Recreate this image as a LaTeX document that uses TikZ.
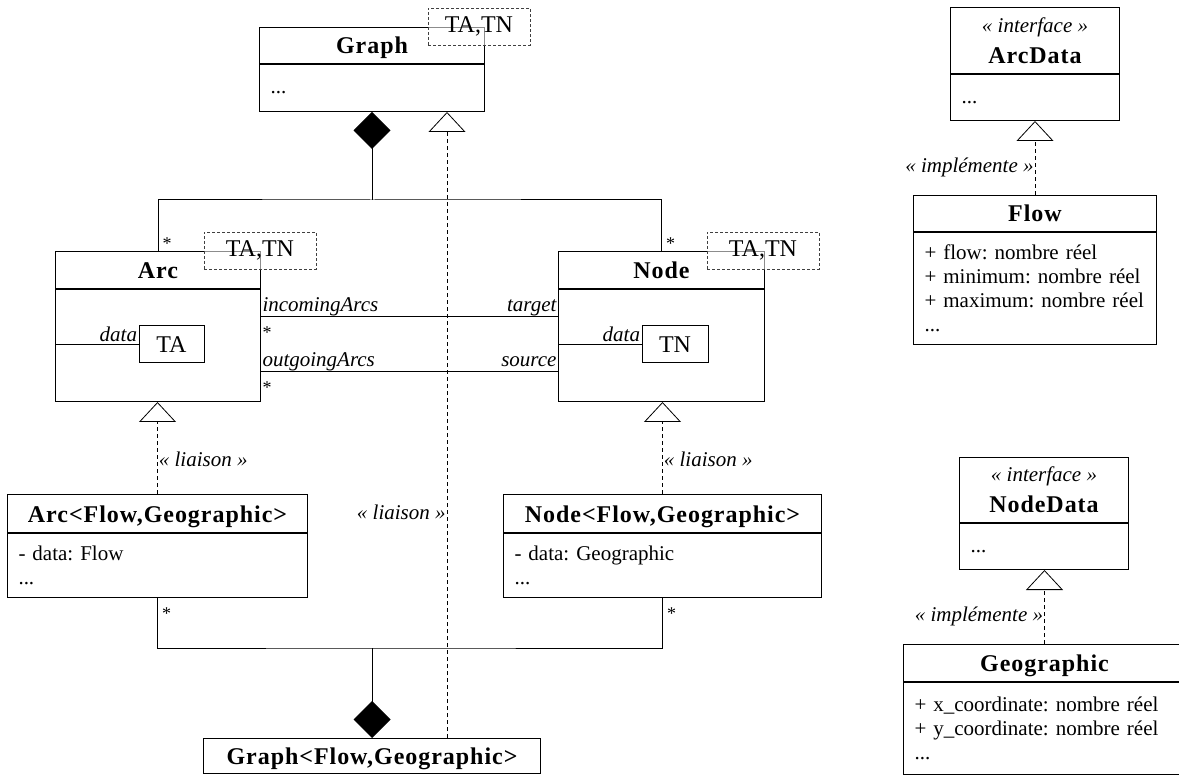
\documentclass[tikz,border=0pt]{standalone}
\usepackage{fontspec}
\setmainfont{Liberation Serif}
\newfontfamily\spacedserif{Liberation Serif}[LetterSpace=4]
\usetikzlibrary{arrows.meta}

\newcommand\clsname{\spacedserif\bfseries\fontsize{24}{31}\selectfont}
\newcommand\txtfont{\fontsize{21}{24}\selectfont}
\newcommand\stereotxt{\normalfont\itshape\fontsize{21}{24}\selectfont}
\newcommand\tmplfont{\fontsize{24}{26}\selectfont}
\newcommand\multfont{\fontsize{18}{20}\selectfont}
\frenchspacing

\begin{document}
\begin{tikzpicture}[
    x=1pt, y=-1pt, line width=1pt,
    classhead/.style={draw, anchor=north west, inner sep=0pt,
                text height=19pt, text depth=2pt, font=\clsname},
    ifacehead/.style={draw, anchor=north west, inner sep=0pt,
                align=center, font=\clsname},
    classbody/.style={draw, anchor=north, align=left, inner xsep=11pt,
                inner ysep=0pt, font=\txtfont},
    dotsbody/.style={classbody, text height=16pt, text depth=4pt},
    tmpl/.style={draw=black!75, line width=0.8pt, dash pattern=on 3pt off 2pt,
                fill=white, fill opacity=0.55, text opacity=1,
                minimum width=112pt, minimum height=37pt, inner sep=0pt, font=\tmplfont},
    slot/.style={draw, minimum width=65pt, minimum height=37pt, inner sep=0pt, font=\tmplfont},
    role/.style={font=\stereotxt, inner sep=1pt},
    mult/.style={font=\multfont, inner sep=1pt},
    compose/.style={{Diamond[length=37pt,width=37pt]}-},
    realize/.style={line width=0.8pt, dash pattern=on 4pt off 3pt,
                -{Triangle[open,length=20pt,width=37pt,fill=white]}}
]
\useasboundingbox (0,0) rectangle (1179,775);

% generic classes
\node[classhead, minimum width=225pt, minimum height=36pt] (graph) at (259,27) {Graph};
\node[dotsbody, text width=203pt, minimum height=47pt] (graphbody) at (graph.south) {...};

\node[classhead, minimum width=205pt, minimum height=37pt] (arc) at (55,251) {Arc};
\node[classbody, text width=183pt, minimum height=112pt] (arcbody) at (arc.south) {};
\node[slot] (ta) at (171.5,344.5) {TA};

\node[classhead, minimum width=206pt, minimum height=37pt] (node) at (558,251) {Node};
\node[classbody, text width=184pt, minimum height=112pt] (nodebody) at (node.south) {};
\node[slot, minimum width=66pt] (tn) at (675,344.5) {TN};

% bound classes
\node[classhead, minimum width=300pt, minimum height=38pt] (arcfg) at (7,494) {Arc<Flow,Geographic>};
\node[classbody, text width=278pt, minimum height=64pt] (arcfgbody) at (arcfg.south) {- data: Flow\\...};

\node[classhead, minimum width=318pt, minimum height=38pt] (nodefg) at (503,494) {Node<Flow,Geographic>};
\node[classbody, text width=296pt, minimum height=64pt] (nodefgbody) at (nodefg.south) {- data: Geographic\\...};

\node[classhead, minimum width=337pt, minimum height=35pt] (gfg) at (203,738) {Graph<Flow,Geographic>};

% data types
\node[ifacehead, minimum width=169pt, minimum height=66pt] (arcdata) at (950,7)
    {{\stereotxt « interface »}\\ArcData};
\node[dotsbody, text width=147pt, minimum height=46pt] (arcdatabody) at (arcdata.south) {...};

\node[classhead, minimum width=243pt, minimum height=36pt] (flow) at (913,195) {Flow};
\node[classbody, text width=221pt, minimum height=112pt] (flowbody) at (flow.south)
    {+ flow: nombre réel\\+ minimum: nombre réel\\+ maximum: nombre réel\\...};

\node[ifacehead, minimum width=169pt, minimum height=65pt] (nodedata) at (959,457)
    {{\stereotxt « interface »}\\NodeData};
\node[dotsbody, text width=147pt, minimum height=46pt] (nodedatabody) at (nodedata.south) {...};

\node[classhead, minimum width=282pt, minimum height=37pt] (geo) at (903,644) {Geographic};
\node[classbody, text width=260pt, minimum height=92pt] (geobody) at (geo.south)
    {+ x\_coordinate: nombre réel\\+ y\_coordinate: nombre réel\\...};

% template parameters
\node[tmpl, minimum width=102pt] (graphtp) at (479,26.5) {TA,TN};
\node[tmpl] (arctp) at (260,250.5) {TA,TN};
\node[tmpl] (nodetp) at (763,250.5) {TA,TN};

% data attributes
\draw (arcbody.west |- ta.west) -- (ta.west)
    node[role, anchor=base east, pos=1, yshift=3pt] (arcrole) {data};
\draw (nodebody.west |- tn.west) -- (tn.west)
    node[role, anchor=base east, pos=1, yshift=3pt] (noderole) {data};

% associations Arc -- Node
\coordinate (inc) at (0,317);
\coordinate (out) at (0,372);
\draw (arcbody.east |- inc) -- (nodebody.west |- inc)
    node[role, pos=0, anchor=base west, yshift=5pt] (incl) {incomingArcs}
    node[mult, pos=0, anchor=base west, yshift=-22pt] (incm) {*}
    node[role, pos=1, anchor=base east, yshift=5pt] (tgtl) {target};
\draw (arcbody.east |- out) -- (nodebody.west |- out)
    node[role, pos=0, anchor=base west, yshift=5pt] (outl) {outgoingArcs}
    node[mult, pos=0, anchor=base west, yshift=-22pt] (outm) {*}
    node[role, pos=1, anchor=base east, yshift=5pt] (srcl) {source};

% composition Graph
\coordinate (upjoin) at (372,200);
\draw[compose] (graphbody.south) -- (graphbody.south |- upjoin);
\draw (arc.north) |- (upjoin) -| (node.north);
\node[mult, anchor=base west, xshift=3pt, yshift=1pt] (arcm) at (arc.north) {*};
\node[mult, anchor=base west, xshift=3pt, yshift=1pt] (nodem) at (node.north) {*};

% composition Graph<Flow,Geographic>
\coordinate (lowjoin) at (372,648);
\draw[compose] (gfg.north) -- (gfg.north |- lowjoin);
\draw (arcfgbody.south) |- (lowjoin) -| (nodefgbody.south);
\node[mult, anchor=base west, xshift=3pt, yshift=-21pt] (arcfgm) at (arcfgbody.south) {*};
\node[mult, anchor=base west, xshift=3pt, yshift=-21pt] (nodefgm) at (nodefgbody.south) {*};

% bindings
\coordinate (gx) at (447,0);
\draw[realize] (arcfg.north) -- (arcfg.north |- arcbody.south)
    node[role, pos=0.38, right] (lia1) {« liaison »};
\draw[realize] (nodefg.north) -- (nodefg.north |- nodebody.south)
    node[role, pos=0.38, right] (lia2) {« liaison »};
\draw[realize] (gfg.north -| gx) -- (graphbody.south -| gx)
    node[role, pos=0.36, left] (lia3) {« liaison »};

% implementations
\draw[realize] (flow.north) -- (arcdatabody.south)
    node[role, pos=0.37, left] (impl1) {« implémente »};
\draw[realize] (geo.north) -- (geo.north |- nodedatabody.south)
    node[role, pos=0.37, left] (impl2) {« implémente »};

\end{tikzpicture}
\end{document}
